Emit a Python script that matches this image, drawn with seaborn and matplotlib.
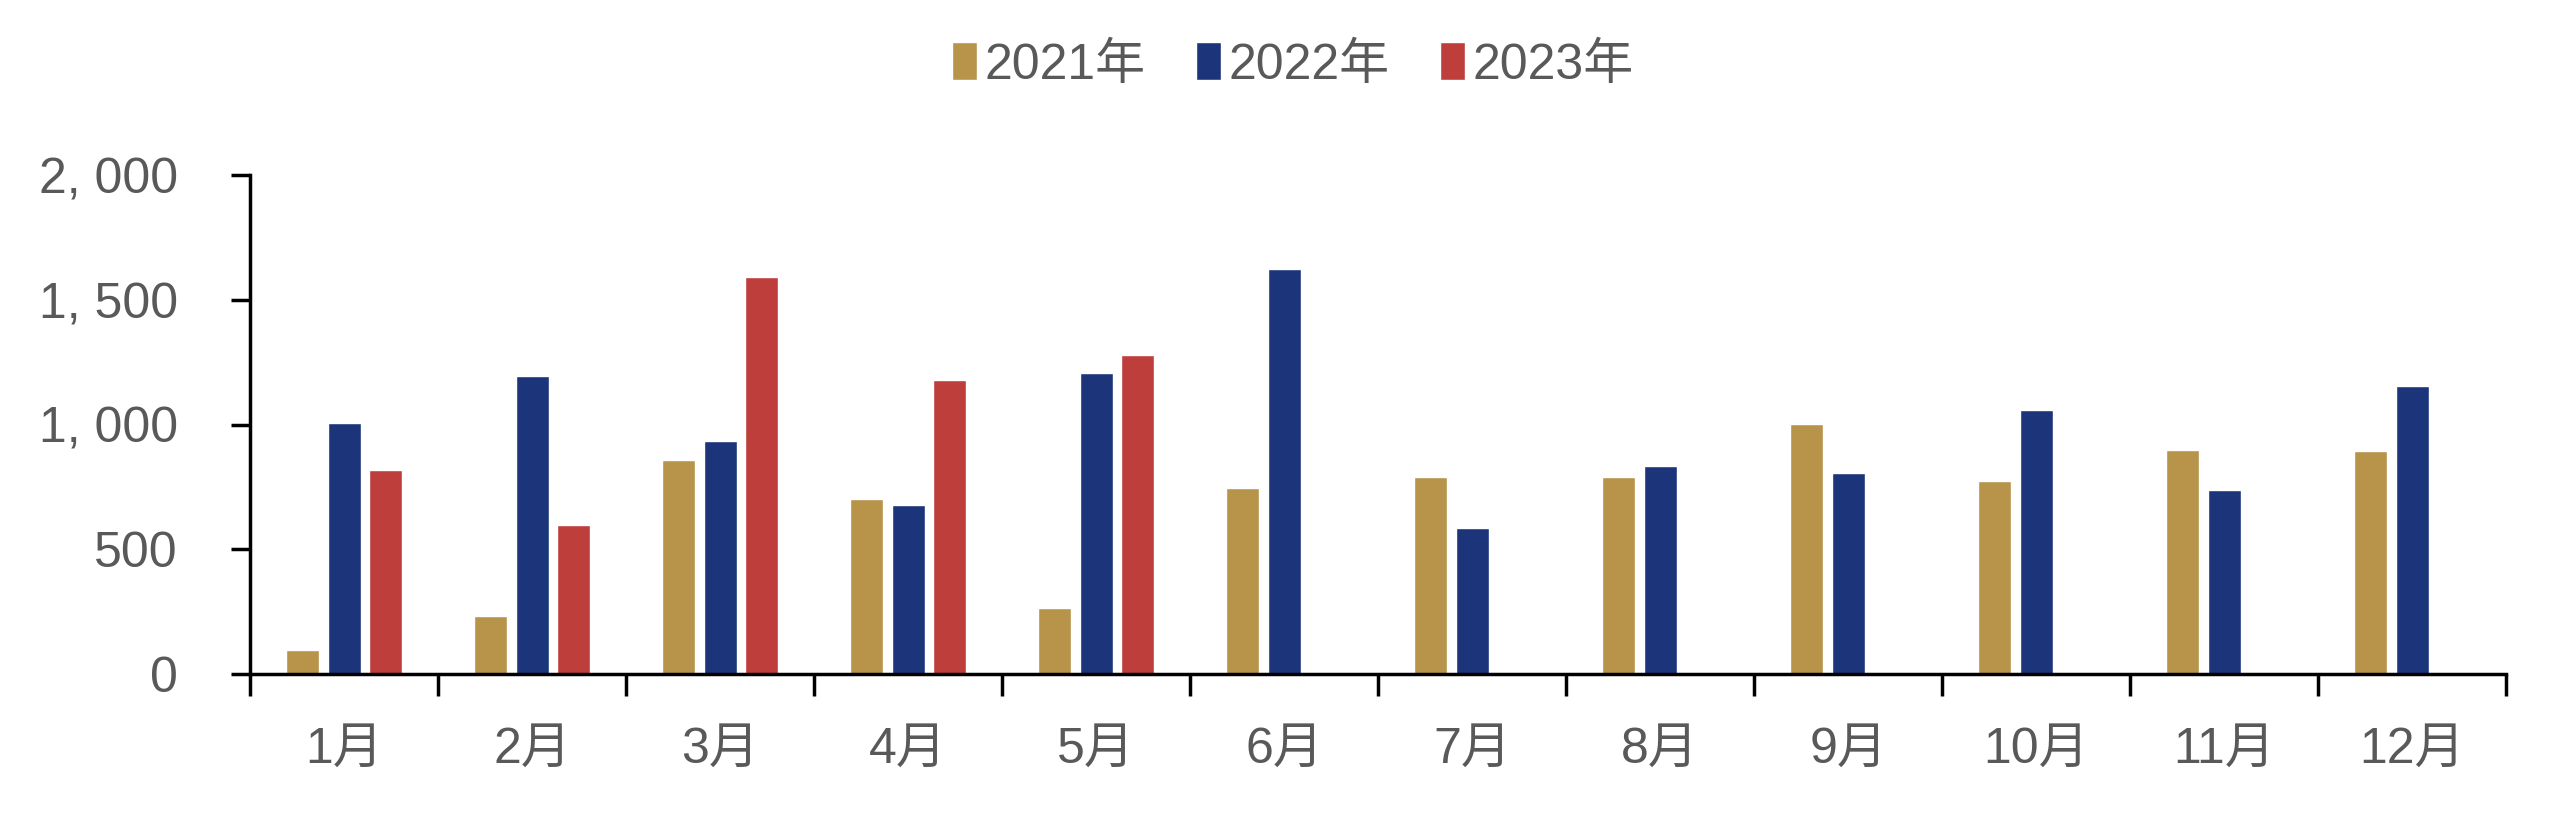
import matplotlib
matplotlib.use("Agg")
import matplotlib.pyplot as plt
import seaborn as sns
import pandas as pd
import numpy as np
from matplotlib.ticker import FuncFormatter, FixedLocator

months = ["1月", "2月", "3月", "4月", "5月", "6月", "7月", "8月", "9月", "10月", "11月", "12月"]
years = ["2021年", "2022年", "2023年"]
vals_2021 = [95, 232, 860, 703, 263, 746, 790, 790, 1004, 773, 898, 896]
vals_2022 = [1005, 1194, 933, 677, 1208, 1624, 584, 833, 807, 1058, 739, 1155]
vals_2023 = [817, 597, 1592, 1178, 1279, np.nan, np.nan, np.nan, np.nan, np.nan, np.nan, np.nan]
colors = ["#B8944A", "#1B347A", "#BE3E3B"]

df = pd.DataFrame({
    "month": months * 3,
    "year": [years[0]] * 12 + [years[1]] * 12 + [years[2]] * 12,
    "value": vals_2021 + vals_2022 + vals_2023,
})

sns.set_style("white")
plt.rcParams["font.family"] = ["Liberation Sans", "Noto Sans CJK SC"]

fig, ax = plt.subplots(figsize=(25.6, 8.16), dpi=100)
fig.subplots_adjust(left=0.0977, right=0.979, top=0.785, bottom=0.174)

sns.barplot(data=df, x="month", y="value", hue="year", order=months, hue_order=years,
            palette=colors, width=0.66, gap=0.2, saturation=1, ax=ax, legend=True)

ax.set_ylim(0, 2000)
ax.set_xlim(-0.5, 11.5)
ax.set_yticks([0, 500, 1000, 1500, 2000])
ax.yaxis.set_major_formatter(FuncFormatter(lambda v, p: f"{v:,.0f}".replace(",", ", ")))
ax.set_xlabel("")
ax.set_ylabel("")

# x ticks at category boundaries, labels centred
ax.set_xticks(np.arange(12))
ax.set_xticklabels(months)
ax.tick_params(axis="x", which="major", bottom=True, length=0, pad=38, labelsize=36,
               colors="#595959")
ax.xaxis.set_minor_locator(FixedLocator(np.arange(-0.5, 12, 1)))
ax.tick_params(axis="x", which="minor", bottom=True, length=16, width=2.5, color="black",
               direction="out")
ax.tick_params(axis="y", left=True, length=14, width=2.5, color="black", direction="out",
               labelsize=36, labelcolor="#595959", pad=38)

for s in ["top", "right"]:
    ax.spines[s].set_visible(False)
for s in ["left", "bottom"]:
    ax.spines[s].set_color("black")
    ax.spines[s].set_linewidth(2.5)

handles, labels = ax.get_legend_handles_labels()
ax.get_legend().remove()
leg = fig.legend(handles, labels, loc="center", bbox_to_anchor=(0.505, 0.92), ncol=3,
                 frameon=False, fontsize=36, handlelength=0.5, handleheight=0.8,
                 handletextpad=0.15, columnspacing=1.0)
for t in leg.get_texts():
    t.set_color("#595959")

plt.savefig("out.png", dpi=100)
